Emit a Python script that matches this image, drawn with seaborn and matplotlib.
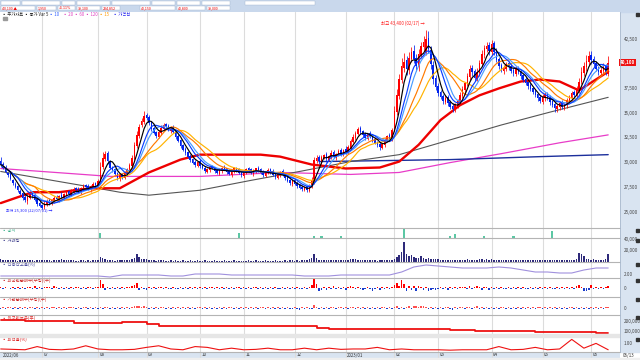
import numpy as np
import pandas as pd
import seaborn as sns
import matplotlib.pyplot as plt
from matplotlib.patches import Rectangle
from matplotlib.lines import Line2D

sns.set_style("white")
plt.rcParams['font.family'] = ['Noto Sans CJK KR', 'DejaVu Sans']

# 일봉 시가/종가 (단위: 100원)
close = [298, 295, 290, 287, 283, 279, 275, 272, 268, 264,
         262, 265, 268, 266, 262, 258, 256, 254, 258, 261,
         259, 262, 264, 263, 266, 265, 268, 270, 268, 271,
         273, 272, 270, 274, 276, 275, 273, 276, 278, 277,
         281, 296, 305, 309, 302, 295, 292, 288, 284, 287,
         285, 289, 293, 298, 305, 318, 328, 336, 342, 347,
         345, 340, 334, 330, 327, 331, 335, 338, 336, 333,
         335, 331, 326, 322, 317, 313, 310, 306, 303, 300,
         298, 301, 297, 294, 291, 293, 296, 294, 291, 289,
         292, 295, 293, 290, 288, 291, 294, 292, 289, 287,
         290, 293, 292, 289, 291, 294, 292, 289, 287, 290,
         292, 290, 287, 285, 288, 290, 287, 284, 281, 279,
         281, 278, 276, 274, 273, 275, 272, 276, 282, 303,
         305, 302, 306, 308, 304, 307, 310, 306, 309, 312,
         309, 313, 311, 316, 322, 326, 330, 334, 331, 328,
         325, 329, 327, 323, 320, 318, 316, 319, 323, 327,
         324, 333, 352, 368, 385, 398, 402, 395, 406, 412,
         405, 398, 410, 418, 422, 425, 415, 400, 385, 376,
         370, 366, 362, 365, 360, 356, 354, 358, 362, 368,
         374, 380, 388, 395, 392, 386, 392, 401, 410, 416,
         418, 413, 420, 412, 404, 398, 394, 396, 400, 397,
         393, 391, 395, 392, 388, 384, 380, 377, 374, 371,
         368, 365, 362, 366, 369, 365, 361, 358, 355, 357,
         360, 356, 359, 363, 366, 370, 368, 374, 382, 392,
         398, 403, 408, 404, 400, 395, 392, 394, 397, 391, 401]
open_ = [302, 299, 296, 289, 288, 282, 278, 276, 271, 269,
         265, 261, 264, 269, 267, 263, 259, 257, 255, 257,
         262, 258, 261, 265, 262, 267, 264, 267, 271, 267,
         270, 274, 273, 270, 273, 277, 276, 272, 275, 279,
         277, 282, 296, 304, 310, 301, 296, 293, 289, 283,
         288, 284, 288, 292, 297, 304, 317, 327, 338, 341,
         348, 346, 341, 335, 331, 326, 330, 334, 339, 337,
         332, 336, 332, 327, 323, 318, 314, 311, 307, 304,
         301, 297, 302, 298, 295, 290, 292, 297, 295, 292,
         288, 291, 296, 294, 291, 287, 290, 295, 293, 290,
         286, 289, 294, 293, 288, 290, 295, 293, 290, 286,
         289, 293, 291, 288, 284, 287, 291, 288, 285, 282,
         278, 282, 279, 277, 275, 272, 276, 271, 275, 280,
         302, 306, 301, 305, 309, 303, 306, 311, 305, 308,
         313, 308, 314, 310, 315, 321, 325, 329, 335, 332,
         329, 324, 330, 328, 324, 321, 319, 315, 318, 322,
         328, 323, 334, 351, 367, 384, 396, 404, 394, 405,
         413, 406, 397, 409, 417, 412, 426, 414, 399, 386,
         377, 371, 367, 361, 366, 361, 357, 353, 357, 361,
         367, 373, 379, 387, 396, 393, 385, 391, 400, 409,
         415, 419, 412, 421, 413, 405, 399, 393, 395, 401,
         398, 394, 390, 396, 393, 389, 385, 381, 378, 375,
         372, 369, 366, 361, 365, 370, 366, 362, 359, 354,
         356, 361, 355, 358, 362, 365, 371, 367, 373, 381,
         391, 397, 402, 409, 405, 401, 396, 391, 393, 398, 390]
upper_wick = [4, 2, 2, 1, 2, 1, 2, 1, 2, 1,
              3, 2, 3, 1, 2, 1, 2, 1, 3, 2,
              2, 1, 2, 2, 1, 3, 1, 2, 1, 2,
              2, 1, 2, 1, 2, 1, 2, 1, 2, 1,
              2, 5, 6, 3, 2, 2, 1, 2, 1, 2,
              1, 2, 2, 2, 3, 3, 4, 3, 3, 5,
              2, 2, 1, 2, 1, 2, 3, 2, 1, 2,
              2, 2, 1, 2, 1, 1, 2, 1, 2, 1,
              2, 1, 2, 1, 2, 1, 2, 1, 1, 2,
              2, 1, 2, 1, 2, 1, 2, 1, 2, 1,
              2, 1, 2, 1, 2, 1, 2, 1, 2, 1,
              2, 1, 2, 1, 2, 1, 2, 1, 2, 1,
              2, 1, 2, 1, 2, 1, 1, 2, 3, 3,
              3, 2, 2, 1, 2, 1, 3, 2, 1, 2,
              2, 1, 3, 2, 2, 3, 2, 2, 2, 1,
              2, 1, 2, 1, 2, 1, 2, 1, 2, 1,
              2, 2, 5, 6, 5, 8, 9, 4, 6, 5,
              6, 4, 5, 4, 6, 9, 7, 4, 4, 3,
              3, 2, 2, 3, 2, 2, 3, 2, 2, 3,
              3, 2, 3, 4, 3, 2, 4, 3, 4, 3,
              4, 3, 4, 2, 3, 2, 2, 3, 2, 2,
              2, 2, 3, 2, 2, 1, 2, 1, 2, 1,
              2, 1, 2, 3, 2, 1, 2, 1, 2, 2,
              2, 2, 1, 2, 2, 2, 2, 3, 4, 5,
              4, 6, 5, 4, 3, 2, 2, 3, 4, 2, 7]
lower_wick = [2, 2, 1, 2, 1, 2, 1, 2, 1, 2,
              2, 3, 1, 2, 1, 2, 1, 1, 2, 1,
              2, 1, 2, 1, 2, 1, 2, 1, 2, 1,
              1, 2, 1, 2, 1, 2, 1, 2, 1, 2,
              1, 2, 3, 2, 3, 2, 2, 1, 2, 2,
              2, 1, 2, 1, 2, 1, 2, 2, 2, 2,
              2, 2, 2, 1, 2, 1, 2, 1, 2, 1,
              2, 1, 2, 1, 2, 1, 2, 1, 2, 1,
              2, 1, 2, 1, 2, 1, 2, 1, 2, 1,
              1, 2, 1, 2, 1, 2, 1, 2, 1, 2,
              2, 1, 2, 1, 2, 1, 2, 1, 2, 1,
              1, 2, 1, 2, 1, 2, 1, 2, 1, 2,
              2, 1, 2, 1, 2, 1, 2, 1, 1, 2,
              2, 3, 2, 1, 3, 1, 2, 1, 2, 1,
              2, 1, 2, 1, 2, 1, 2, 1, 2, 2,
              2, 1, 2, 2, 1, 2, 3, 1, 2, 1,
              2, 1, 2, 3, 3, 4, 4, 6, 4, 3,
              4, 5, 4, 3, 4, 3, 4, 5, 6, 3,
              3, 2, 3, 2, 3, 2, 3, 2, 2, 3,
              2, 3, 2, 3, 4, 3, 2, 3, 2, 3,
              3, 4, 3, 3, 2, 3, 2, 3, 2, 3,
              2, 3, 2, 2, 3, 2, 2, 3, 2, 2,
              2, 3, 2, 2, 3, 2, 3, 2, 4, 3,
              3, 2, 2, 3, 2, 2, 2, 2, 3, 2,
              3, 4, 3, 4, 3, 2, 3, 2, 3, 2, 2]

# 거래량 (천주)
volume = [5, 4, 3, 3, 4, 3, 3, 2, 3, 4,
          3, 4, 3, 3, 2, 3, 3, 4, 3, 3,
          3, 2, 3, 4, 3, 5, 4, 3, 3, 3,
          3, 2, 2, 3, 3, 2, 3, 2, 3, 3,
          4, 9, 7, 5, 4, 3, 3, 2, 3, 3,
          3, 3, 3, 4, 5, 8, 15, 9, 6, 5,
          6, 4, 3, 3, 2, 3, 3, 3, 2, 2,
          3, 2, 3, 2, 2, 3, 2, 2, 3, 2,
          2, 3, 2, 2, 3, 2, 2, 2, 3, 2,
          2, 2, 3, 2, 2, 2, 3, 2, 2, 2,
          2, 2, 3, 2, 2, 3, 2, 2, 2, 3,
          2, 2, 2, 3, 2, 2, 2, 3, 2, 3,
          3, 2, 3, 2, 3, 4, 3, 5, 8, 14,
          7, 4, 3, 3, 3, 4, 3, 3, 3, 3,
          3, 3, 4, 3, 5, 6, 5, 4, 3, 3,
          3, 3, 3, 3, 3, 2, 3, 3, 3, 3,
          3, 4, 6, 9, 12, 18, 36, 14, 10, 12,
          9, 7, 8, 11, 7, 6, 8, 5, 6, 5,
          5, 4, 4, 3, 4, 3, 4, 3, 3, 4,
          4, 4, 5, 4, 3, 4, 4, 5, 6, 4,
          5, 4, 6, 3, 3, 3, 4, 3, 3, 3,
          3, 3, 3, 3, 3, 3, 4, 3, 3, 3,
          3, 3, 3, 3, 3, 3, 3, 3, 3, 3,
          3, 3, 3, 3, 3, 3, 3, 5, 16, 14,
          10, 5, 6, 4, 5, 4, 4, 4, 3, 5, 14]

foreign_net = [1, -1, 1, 0, -1, 1, -1, 1, -1, 1,
               -1, 1, 1, -1, 2, -1, 1, -1, 1, 1,
               1, -1, 2, 1, -1, 1, -1, 1, -1, 1,
               -1, 1, 1, -1, 1, -1, 1, 1, -1, 1,
               1, 8, 4, -2, 1, -1, 1, -1, 1, -1,
               1, -1, 1, 1, 2, 3, 5, -2, 1, -1,
               -2, 1, -1, 1, -1, 1, 1, -1, 1, -1,
               -1, 1, -1, -1, 1, -1, 1, -1, 1, -1,
               1, -1, 1, -1, 1, -1, 1, 1, -1, 1,
               -1, 1, -1, 1, -1, 1, -1, 1, 1, -1,
               1, -1, 1, -1, 1, 1, -1, 1, -1, 1,
               -1, 1, -1, 1, -1, -1, 1, -1, 1, -1,
               1, -1, 1, -1, -1, 1, -1, 1, 3, 9,
               4, -3, -2, 1, -2, 1, -1, 2, -1, 1,
               -1, 1, -2, 1, 2, 1, -1, 1, -1, -2,
               -1, 1, -1, -3, -1, 1, -2, 1, -1, 1,
               -1, 1, 3, 5, 2, 8, 4, -3, 2, -2,
               2, -3, 2, 1, -2, 1, -3, -2, -1, -2,
               -1, 1, -1, 1, -2, 1, -1, 1, -1, 1,
               1, 1, -1, 2, -1, 1, 2, 1, -2, 1,
               1, -2, 1, -1, 1, -1, 1, -1, -1, 1,
               -1, 1, -1, 1, -1, 1, -1, -1, 1, -1,
               1, -1, 1, -1, 1, -1, 1, -1, -1, 1,
               -1, 1, -1, 1, -1, 1, -1, 2, 3, 1,
               -3, -3, -2, 3, -1, 1, -1, 1, -1, 1, 2]
inst_net = [-1, 1, -1, 1, 1, -1, 1, -1, 1, -1,
            1, -1, 1, 1, -1, 1, -1, 1, -1, 1,
            -1, 1, 1, -1, 1, -1, 1, -1, 1, 1,
            1, -1, 1, -1, 1, 1, -1, 1, -1, 1,
            -1, 1, -1, 1, 1, -1, 1, -1, 1, -1,
            1, -1, 1, -1, 1, 2, 2, 2, 1, 2,
            1, -1, 1, -1, 1, -1, 1, 1, -1, 1,
            -1, 1, -1, 1, -1, 1, -1, 1, -1, 1,
            -1, 1, 1, -1, 1, -1, 1, -1, 1, -1,
            1, -1, 1, -1, 1, 1, -1, 1, -1, 1,
            -1, 1, -1, 1, -1, 1, -1, 1, 1, -1,
            1, -1, 1, -1, 1, -1, 1, -1, 1, -1,
            -1, 1, -1, -2, 1, -1, 1, -1, -1, 3,
            1, -1, 1, -1, 1, -1, 1, 1, -1, 1,
            1, -1, 1, -1, 1, 1, -1, 1, -1, 1,
            -1, 1, -1, 1, -1, 1, -1, 1, 1, -1,
            1, -1, 1, 2, -1, 1, -1, 1, 2, -1,
            2, 2, 1, 2, 2, 1, -1, 1, -1, 1,
            -1, 1, -1, 1, 1, -1, -2, 1, -1, 1,
            1, -1, 1, 1, -1, 1, 2, -1, 1, -1,
            1, -1, 1, -1, 1, -1, 1, 1, -1, 1,
            -1, 1, -1, 1, -1, 1, -1, 1, -1, 1,
            -1, 1, 1, -1, 1, -1, 1, -1, 1, -1,
            1, -1, 1, -1, 1, 1, -1, 1, -1, 1,
            -1, 1, -1, 1, -1, 1, -1, 1, -1, 1, 1]

# 공시 막대
notice_idx = [41, 98, 129, 132, 140, 166, 185, 187, 199, 211, 227]
notice_val = [5, 5, 2, 2, 2, 9, 2, 4, 2, 2, 7]

# 장기 이동평균 (100원)
red_idx = [0, 13, 24, 37, 49, 61, 74, 82, 94, 107, 115, 128, 142, 156, 164, 172,
           181, 189, 197, 205, 214, 222, 230, 238, 250]
red_val = [259, 270, 270, 274, 274, 290, 303, 308, 308, 308, 306, 298, 294, 295, 301, 318,
           343, 358, 368, 375, 382, 384, 382, 373, 392]
gray_idx = [0, 33, 49, 61, 82, 103, 123, 144, 164, 185, 206, 226, 250]
gray_val = [291, 277, 270, 267, 272, 282, 291, 301, 308, 323, 338, 351, 366]
magenta_idx = [0, 45, 82, 115, 144, 164, 185, 206, 230, 250]
magenta_val = [294, 286, 286, 290, 288, 290, 300, 309, 320, 328]
navy_idx = [131, 185, 222, 250]
navy_val = [301, 303, 306, 308]

# 보조지표 (5일 간격)
step_idx = list(range(0, 251, 5))
credit_ratio = [1.9, 1.9, 1.9, 1.9, 1.9, 1.9, 1.9, 1.9, 1.9, 1.8,
                2.0, 2.0, 2.0, 2.0, 1.9, 1.9, 2.1, 2.1, 2.1, 2.0,
                2.0, 2.0, 2.0, 2.0, 2.0, 1.9, 1.9, 1.9, 2.0, 2.0,
                2.0, 2.0, 2.0, 2.3, 2.8, 3.0, 2.9, 2.8, 2.7, 2.7,
                2.7, 2.8, 2.7, 2.5, 2.3, 2.3, 2.2, 2.2, 2.5, 2.7, 2.7]
foreign_hold = [210, 210, 205, 205, 205, 200, 185, 185, 185, 185,
                188, 188, 170, 150, 150, 150, 150, 150, 150, 152,
                152, 152, 150, 150, 150, 150, 135, 125, 122, 122,
                122, 125, 125, 125, 125, 125, 122, 115, 110, 105,
                100, 100, 100, 100, 95, 92, 90, 90, 88, 85, 80]
turnover = [0.3, 0.25, 0.2, 0.6, 0.25, 0.2, 0.3, 0.7, 0.3, 0.2,
            0.2, 0.25, 0.5, 0.7, 0.3, 0.2, 0.6, 0.5, 0.2, 0.4,
            0.2, 0.25, 0.4, 0.2, 0.2, 0.4, 0.2, 0.4, 0.25, 0.3,
            0.3, 0.5, 0.2, 0.3, 0.2, 0.2, 0.2, 0.15, 0.2, 0.2,
            0.2, 0.6, 0.2, 0.25, 0.5, 0.2, 0.3, 1.5, 0.4, 1.0, 0.2]

month_idx = [17, 40, 60, 82, 100, 121, 142, 162, 180, 202, 223, 243]
month_lbl = ["07", "08", "09", "10", "11", "12", "2023/01", "02", "03", "04", "05", "06"]
price_ticks = [42500, 40000, 37500, 35000, 32500, 30000, 27500, 25000]

UP, DOWN = '#ff0000', '#0022ee'
GRID = '#dcdcdc'
PANEL_BG = '#d9e4f1'
W, H = 640, 360
XLIM = (-0.29, 254.86)

fig = plt.figure(figsize=(6.4, 3.6), dpi=100)
fig.patch.set_facecolor('white')


def px_axes(x0, y0, x1, y1):
    a = fig.add_axes([x0 / W, 1 - y1 / H, (x1 - x0) / W, (y1 - y0) / H])
    a.set_xlim(*XLIM)
    for s in a.spines.values():
        s.set_visible(False)
    a.set_xticks([])
    a.set_yticks([])
    a.set_facecolor('white')
    for m in month_idx:
        a.axvline(m, color=GRID, lw=0.8, zorder=0)
    return a


def hline(y, color='#b4b4b4', lw=0.8, x1=620):
    fig.add_artist(Line2D([0, x1 / W], [1 - y / H, 1 - y / H], color=color, lw=lw))


def right_label(a, y, txt, color='#444444'):
    a.text(1.006, y, txt, transform=a.get_yaxis_transform(), fontsize=3.3,
           color=color, va='center', ha='left', clip_on=False)


# 배경 패널
fig.add_artist(Rectangle((620 / W, 1 - 352 / H), 20 / W, 340 / H, color=PANEL_BG, zorder=0))
fig.add_artist(Rectangle((0, 1 - 11.5 / H), 1, 11.5 / H, color='#c9d8ec', zorder=0))

idx = np.arange(len(close))
o = np.array(open_) * 100
c = np.array(close) * 100
hi = np.maximum(o, c) + np.array(upper_wick) * 100
lo = np.minimum(o, c) - np.array(lower_wick) * 100
col = np.where(c >= o, UP, DOWN)

# 메인 차트
ax = px_axes(0, 12, 620, 228)
ax.set_ylim(23381, 45231)
ax.vlines(idx, lo, hi, colors=col, lw=0.55, zorder=3)
ax.bar(idx, np.maximum(np.abs(c - o), 40), bottom=np.minimum(o, c), width=0.62,
       color=col, zorder=3, linewidth=0)

cs = pd.Series(c)
sns.lineplot(x=magenta_idx, y=np.array(magenta_val) * 100, ax=ax, color='#e83cc8', lw=0.9, zorder=2)
sns.lineplot(x=navy_idx, y=np.array(navy_val) * 100, ax=ax, color='#1c2f9c', lw=1.0, zorder=2)
sns.lineplot(x=gray_idx, y=np.array(gray_val) * 100, ax=ax, color='#555555', lw=0.8, zorder=2)
sns.lineplot(x=red_idx, y=np.array(red_val) * 100, ax=ax, color='#ee0000', lw=1.7, zorder=2)
for win, color in [(20, '#ffb300'), (15, '#ff7a00'), (10, '#4a9dff'), (8, '#0a3dff'), (5, '#000000')]:
    sns.lineplot(x=idx, y=cs.rolling(win, min_periods=1).mean(), ax=ax, color=color,
                 lw=0.85, zorder=4)
ax.set_xlabel('')
ax.set_ylabel('')
ax.set_xlim(*XLIM)
ax.set_ylim(23381, 45231)

last = int(c[-1])
for p in price_ticks:
    if abs(p - last) > 500:
        right_label(ax, p, f"{p:,}")
ax.text(1.0, last, f"{last:,}", transform=ax.get_yaxis_transform(), fontsize=3.3,
        color='white', va='center', ha='left', clip_on=False, fontweight='bold',
        bbox=dict(boxstyle='square,pad=0.25', fc='#ee1111', ec='none'))

pk = int(np.argmax(hi))
ax.annotate(f"최고 {int(hi[pk]):,} (02/17) →", xy=(pk, hi[pk]), xytext=(pk - 0.5, hi[pk] + 400),
            fontsize=3.2, color='#ff2020', ha='right', va='bottom')
lw_i = int(np.argmin(lo))
ax.annotate(f"최저 {int(lo[lw_i]):,} (22/07/01) →", xy=(lw_i, lo[lw_i]), xytext=(2.0, lo[lw_i] - 150),
            fontsize=2.9, color='#2020ff', ha='left', va='center')

# 범례
legend = [(2, "▪ 주가차트 ▪ 종가 Var 5", '#222222'), (49, "▪ 10", '#2a5cff'),
          (63, "▪ 20 ▪ 60 ▪ 120", '#e040c0'), (99, "▪ 15", '#ff9a00'),
          (113, "▪ 가격선", '#2222ee')]
for x, t, cc in legend:
    fig.text(x / W, 1 - 15 / H, t, fontsize=3.1, color=cc, va='center')
fig.add_artist(Rectangle((3 / W, 1 - 20 / H), 4 / W, 3 / H, color='#9a9a9a'))

# 툴바
for x0, x1 in [(1, 20), (22, 60), (62, 75), (77, 110), (112, 150), (152, 175), (177, 200), (202, 230)]:
    fig.add_artist(Rectangle((x0 / W, 1 - 4.6 / H), (x1 - x0) / W, 4 / H, fc='white', ec='#9fb3cf', lw=0.3))
for x0, x1, t in [(1, 35, "40,100 ▲"), (37, 56, "1,950"), (58, 75, "+5.11%"), (77, 100, "39,100"),
                  (102, 120, "234,852"), (140, 175, "40,150"), (177, 205, "40,800"), (207, 230, "39,000")]:
    fig.add_artist(Rectangle((x0 / W, 1 - 10.2 / H), (x1 - x0) / W, 4.6 / H, fc='white', ec='#9fb3cf', lw=0.3))
    fig.text((x0 + 1) / W, 1 - 8 / H, t, fontsize=2.6, color='#ee0000', va='center')
fig.add_artist(Rectangle((245 / W, 1 - 4.6 / H), 70 / W, 4 / H, fc='white', ec='#9fb3cf', lw=0.3))

# 공시
ax1 = px_axes(0, 228, 620, 238)
ax1.set_ylim(0, 10)
ax1.bar(notice_idx, notice_val, width=0.9, color='#5cc7a4', linewidth=0)
ax1.text(0.003, 0.7, "▪ 공시", transform=ax1.transAxes, fontsize=3.2, color='#3cb08a', va='center')

# 거래량
ax2 = px_axes(0, 238, 620, 262)
ax2.set_ylim(0, 43600)
ax2.bar(idx, np.array(volume) * 1000, width=0.6, color='#2e2a7a', linewidth=0)
ax2.text(0.003, 0.88, "▪ 거래량", transform=ax2.transAxes, fontsize=3.2, color='#3a3a8a', va='center')
right_label(ax2, 40000, "40,000")
right_label(ax2, 20000, "20,000")

# 신용잔고율
ax3 = px_axes(0, 262, 620, 278)
ax3.set_ylim(1.7, 3.3)
sns.lineplot(x=step_idx, y=credit_ratio, ax=ax3, color='#a090dd', lw=0.8)
ax3.text(0.003, 0.85, "▪ 신용잔고율(%)", transform=ax3.transAxes, fontsize=3.2, color='#5050a0', va='center')
right_label(ax3, 2.0, "2.00")

# 외국인 순매수
ax4 = px_axes(0, 278, 620, 297)
ax4.set_ylim(-9, 10)
fn = np.array(foreign_net)
ax4.bar(idx, fn, width=0.65, color=np.where(fn > 0, UP, '#1a3ccc'), linewidth=0)
ax4.text(0.003, 0.87, "▪ 외국인순매수(수량)(주)", transform=ax4.transAxes, fontsize=3.2, color='#cc2222', va='center')
right_label(ax4, 0, "0")

# 기관 순매수
ax5 = px_axes(0, 297, 620, 315)
ax5.set_ylim(-7, 11)
inn = np.array(inst_net)
ax5.bar(idx, inn, width=0.65, color=np.where(inn > 0, '#ff5050', '#1a3ccc'), linewidth=0)
ax5.text(0.003, 0.87, "▪ 기관순매수(수량)(주)", transform=ax5.transAxes, fontsize=3.2, color='#cc2222', va='center')
right_label(ax5, 0, "0")

# 외국인 보유
ax6 = px_axes(0, 315, 620, 334)
ax6.set_ylim(70, 260)
sns.lineplot(x=step_idx, y=foreign_hold, ax=ax6, color='#ee1111', lw=1.3, drawstyle='steps-post')
ax6.text(0.003, 0.85, "▪ 외국인보유(주)", transform=ax6.transAxes, fontsize=3.2, color='#dd2222', va='center')
right_label(ax6, 200, "200,000")
right_label(ax6, 100, "100,000")

fig.add_artist(Rectangle((0, 1 - 337 / H), 620 / W, 3 / H, color='#e6e6e6'))

# 회전율
ax7 = px_axes(0, 337, 620, 352)
ax7.set_ylim(-0.08, 1.8)
sns.lineplot(x=step_idx, y=turnover, ax=ax7, color='#ee1111', lw=0.8)
ax7.text(0.003, 0.85, "▪ 회전율(%)", transform=ax7.transAxes, fontsize=3.2, color='#dd2222', va='center')
right_label(ax7, 1.0, "1.00")

for a in [ax1, ax2, ax3, ax4, ax5, ax6, ax7]:
    a.set_xlabel('')
    a.set_ylabel('')
    a.set_xlim(*XLIM)

# x축 날짜
axd = px_axes(0, 352, 620, 358)
axd.set_facecolor(PANEL_BG)
axd.set_ylim(0, 1)
axd.text(0.8, 0.5, "2022/06", fontsize=3.2, color='#333333', va='center')
for m, t in zip(month_idx, month_lbl):
    axd.text(m + 0.6, 0.5, t, fontsize=3.2, color='#333333', va='center')
fig.text(623 / W, 1 - 355 / H, "06/13", fontsize=3.2, color='#333333', va='center')
fig.add_artist(Rectangle((0, 0), 1, 2 / H, color='#efefef'))

for y in [228, 238, 262, 278, 297, 315, 352]:
    hline(y)
for y in [12, 228, 238, 262, 278, 297, 315, 337]:
    fig.add_artist(Rectangle((636 / W, 1 - (y + 4) / H), 3 / W, 3 / H, color='#333333'))
fig.add_artist(Line2D([620 / W, 620 / W], [1 - 352 / H, 1 - 12 / H], color='#a8b8cc', lw=0.6))

fig.savefig('out.png', dpi=100)
